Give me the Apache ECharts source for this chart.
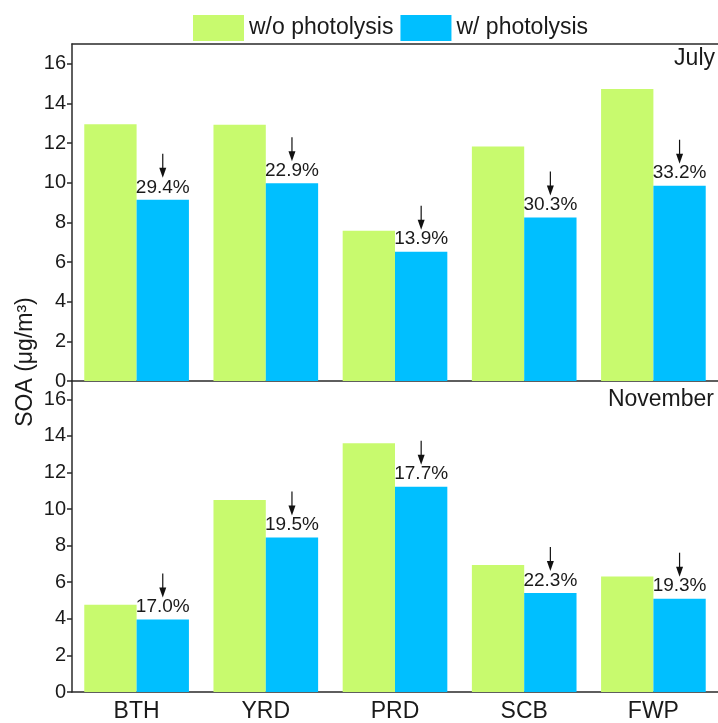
<!DOCTYPE html>
<html>
<head>
<meta charset="utf-8">
<script src="https://cdn.jsdelivr.net/npm/echarts@6/dist/echarts.min.js"></script>
<style>
    html, body { margin: 0; padding: 0; background: #fff; }
    #chart { width: 718px; height: 723px; }
</style>
</head>
<body>
<div id="chart"></div>
<script>
var categories = ['BTH', 'YRD', 'PRD', 'SCB', 'FWP'];
var seriesNames = ['w/o photolysis', 'w/ photolysis'];
var panelNames = ['July', 'November'];

var julyWithout = [12.95, 12.93, 7.58, 11.83, 14.73];
var julyWith = [9.14, 9.98, 6.52, 8.25, 9.85];
var julyPct = ['29.4%', '22.9%', '13.9%', '30.3%', '33.2%'];

var novWithout = [4.77, 10.49, 13.60, 6.94, 6.32];
var novWith = [3.96, 8.45, 11.22, 5.41, 5.10];
var novPct = ['17.0%', '19.5%', '17.7%', '22.3%', '19.3%'];

var yTicks = [0, 2, 4, 6, 8, 10, 12, 14, 16];

var FONT = 'Liberation Sans, Arial, sans-serif';
var GREEN = '#C8FA6E';
var BLUE = '#00BFFF';
var AXIS = '#2a2a2a';
var GAP = 0.19;

var chart = echarts.init(document.getElementById('chart'));

// small down arrow above each blue bar's label
function arrowItem(params, api) {
    var pt = api.coord([api.value(0), api.value(1)]);
    var band = api.size([1, 0])[0];
    var x = pt[0] + band * (1 - GAP) / 4;
    var top = pt[1] - 46;
    var tip = pt[1] - 22;
    return {
        type: 'group',
        children: [
            { type: 'line', shape: { x1: x, y1: top, x2: x, y2: tip - 8 }, style: { stroke: '#111', lineWidth: 1.2 } },
            { type: 'polygon', shape: { points: [[x - 3.5, tip - 10], [x + 3.5, tip - 10], [x, tip]] }, style: { fill: '#111' } }
        ]
    };
}

function yAxisFor(gridIndex) {
    return {
        type: 'value', gridIndex: gridIndex, min: 0, max: 17,
        axisLine: { show: true, lineStyle: { color: AXIS, width: 1.5 } },
        axisTick: { show: true, length: 5, customValues: yTicks, lineStyle: { color: AXIS, width: 1.5 } },
        axisLabel: { customValues: yTicks, fontFamily: FONT, fontSize: 20, color: '#1a1a1a', margin: 6 },
        splitLine: { show: false }
    };
}

function xAxisFor(gridIndex, showLabels, position) {
    return {
        type: 'category', gridIndex: gridIndex, position: position, data: categories,
        axisLine: { show: true, lineStyle: { color: AXIS, width: 1.5 } },
        axisTick: { show: false },
        axisLabel: { show: showLabels, fontFamily: FONT, fontSize: 23, color: '#1a1a1a', margin: 8 }
    };
}

function barsFor(idx, without, withP, pct) {
    return [
        { name: seriesNames[0], type: 'bar', xAxisIndex: idx, yAxisIndex: idx, data: without,
          barGap: '0%', barCategoryGap: (GAP * 100) + '%', itemStyle: { color: GREEN } },
        { name: seriesNames[1], type: 'bar', xAxisIndex: idx, yAxisIndex: idx, data: withP,
          itemStyle: { color: BLUE },
          label: { show: true, position: 'top', distance: 3, fontFamily: FONT, fontSize: 19, color: '#1a1a1a',
                   formatter: function (p) { return pct[p.dataIndex]; } } },
        { type: 'custom', xAxisIndex: idx, yAxisIndex: idx, renderItem: arrowItem, encode: { x: 0, y: 1 },
          data: withP.map(function (v, i) { return [i, v]; }), z: 5, silent: true }
    ];
}

var option = {
    animation: false,
    backgroundColor: '#fff',
    legend: {
        data: seriesNames, left: 188, top: 10, itemWidth: 51, itemHeight: 26, itemGap: 7, icon: 'rect',
        textStyle: { fontFamily: FONT, fontSize: 23, color: '#1a1a1a' }
    },
    grid: [
        { left: 72, top: 44, width: 648, height: 337 },
        { left: 72, top: 381, width: 648, height: 312 }
    ],
    xAxis: [xAxisFor(0, false, 'bottom'), xAxisFor(1, true, 'bottom'), xAxisFor(0, false, 'top')],
    yAxis: [yAxisFor(0), yAxisFor(1)],
    graphic: [
        { type: 'text', right: 3, top: 47, style: { text: panelNames[0], font: '23px ' + FONT, fill: '#1a1a1a' } },
        { type: 'text', right: 4, top: 388, style: { text: panelNames[1], font: '23px ' + FONT, fill: '#1a1a1a' } },
        { type: 'text', x: 26, y: 362, rotation: Math.PI / 2,
          style: { text: 'SOA (μg/m³)', font: '23px ' + FONT, fill: '#1a1a1a', align: 'center', verticalAlign: 'middle' } }
    ],
    series: barsFor(0, julyWithout, julyWith, julyPct).concat(barsFor(1, novWithout, novWith, novPct))
};

chart.setOption(option);
</script>
</body>
</html>
